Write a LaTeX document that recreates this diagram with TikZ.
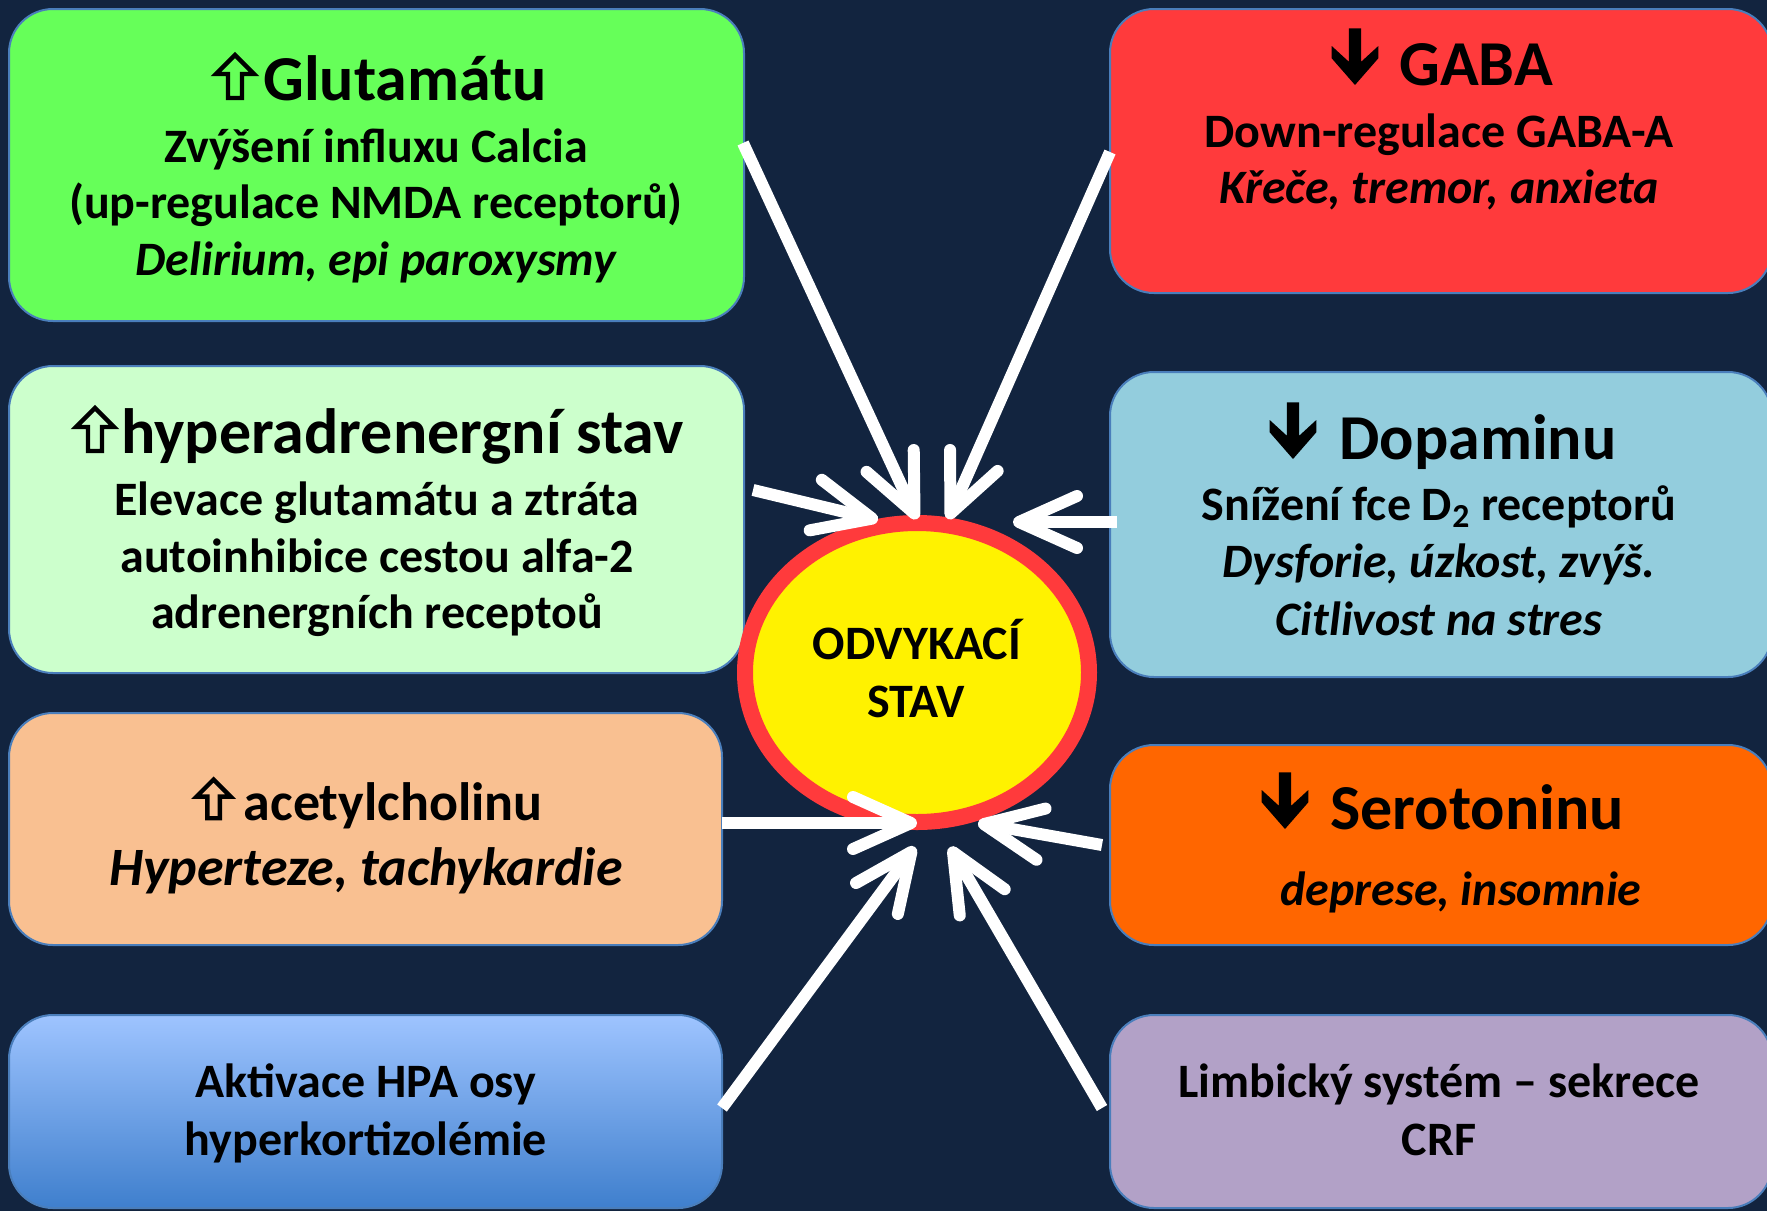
\documentclass[tikz,border=0pt]{standalone}
\usepackage{fontspec}
\setmainfont{Carlito}
\usetikzlibrary{arrows.meta,shapes.geometric,calc}
\definecolor{bgcol}{HTML}{12243F}
\definecolor{cGreen}{HTML}{66FF59}
\definecolor{cLGreen}{HTML}{CCFFCC}
\definecolor{cPeach}{HTML}{F9C091}
\definecolor{cBlueTop}{HTML}{9EC4FF}
\definecolor{cBlueBot}{HTML}{3F7FCD}
\definecolor{cRed}{HTML}{FF3A3C}
\definecolor{cLBlue}{HTML}{93CDDD}
\definecolor{cOrange}{HTML}{FF6600}
\definecolor{cPurple}{HTML}{B2A1C7}
\definecolor{cRing}{HTML}{FF3A3C}
\definecolor{cEdge}{HTML}{4A7EBB}
\tikzset{
  box/.style={draw=cEdge, line width=1pt, rounded corners=22pt, inner sep=0pt, outer sep=0pt},
  tl/.style={anchor=base west, inner sep=0pt, font=\bfseries\fontsize{32}{38}\selectfont},
  pkt/.style={anchor=base west, inner sep=0pt, font=\bfseries\fontsize{27}{32}\selectfont},
  bd/.style={anchor=base, inner sep=0pt, font=\bfseries\fontsize{24}{29}\selectfont},
  bdi/.style={anchor=base, inner sep=0pt, font=\bfseries\itshape\fontsize{24}{29}\selectfont},
  pki/.style={anchor=base, inner sep=0pt, font=\bfseries\itshape\fontsize{27}{32}\selectfont},
  conn/.style={draw=white, line width=6pt, -{Straight Barb[length=29pt, width=26pt, round]}},
  uparr/.pic={\draw[black, line width=2.2pt, miter limit=10]
      (0,-45) -- (19,-26) -- (7,-26) -- (7,-2) -- (-7,-2) -- (-7,-26) -- (-19,-26) -- cycle;},
  dnarr/.pic={\fill[black] (-6.2,-56.7) -- (6.2,-56.7) -- (6.2,-23.3) -- (23.3,-39) -- (23.3,-26.7)
      -- (0,0) -- (-23.3,-26.7) -- (-23.3,-39) -- (-6.2,-23.3) -- cycle;},
}
\begin{document}
\begin{tikzpicture}[x=0.5pt, y=-0.5pt]
\useasboundingbox (0,0) rectangle (1767,1211);
\fill[bgcol] (0,0) rectangle (1767,1211);

% boxes
\node[box, fill=cGreen,  minimum width=367.5pt, minimum height=156pt]   (green)  at (376.5,165) {};
\node[box, fill=cLGreen, minimum width=367.5pt, minimum height=153.5pt] (lgreen) at (376.5,519.5) {};
\node[box, fill=cPeach,  minimum width=356.5pt, minimum height=116pt]   (peach)  at (365.5,829) {};
\node[box, top color=cBlueTop, bottom color=cBlueBot, minimum width=356.5pt, minimum height=96.5pt] (blue) at (365.5,1111.5) {};
\node[box, fill=cRed,    minimum width=331pt, minimum height=142pt]     (red)    at (1441,151) {};
\node[box, fill=cLBlue,  minimum width=331pt, minimum height=152.5pt]   (lblue)  at (1441,524.5) {};
\node[box, fill=cOrange, minimum width=331pt, minimum height=100pt]     (orange) at (1441,845) {};
\node[box, fill=cPurple, minimum width=331pt, minimum height=96.5pt]    (purple) at (1441,1111.5) {};

% central ellipse
\node[ellipse, draw=cRing, line width=8pt, fill=yellow, minimum width=172pt, minimum height=149.5pt, inner sep=0pt, outer sep=0pt] (odv) at (917,672.5) {};

% arrow end points
\coordinate (s1) at ($(green.north east)+(-1,134)$);
\coordinate (s2) at ($(red.north west)+(0,143)$);
\coordinate (s3) at ($(lgreen.north east)+(9,124)$);
\coordinate (s4) at ($(lblue.north west)+(7,150)$);
\coordinate (s5) at ($(peach.north east)+(0,110)$);
\coordinate (s6) at ($(orange.north west)+(-8,100)$);
\coordinate (s7) at ($(blue.north east)+(0,93)$);
\coordinate (s8) at ($(purple.north west)+(-8,93)$);
\coordinate (e1) at ($(odv.center)+(0,-153.5)$);
\coordinate (e2) at ($(odv.center)+(31,-153.5)$);
\coordinate (e3) at ($(odv.center)+(-39,-152.5)$);
\coordinate (e4) at ($(odv.center)+(96,-150.5)$);
\coordinate (e5) at ($(odv.center)+(0,150.5)$);
\coordinate (e6) at ($(odv.center)+(61,150.5)$);
\coordinate (e7) at ($(odv.center)+(-2,174.5)$);
\coordinate (e8) at ($(odv.center)+(33,174.5)$);
\foreach \i in {1,...,8} { \draw[conn] (s\i) -- (e\i); }

% arrow symbols in the titles
\pic at (235,100) {uparr};
\pic at (95,453) {uparr};
\pic[scale=0.9] at (213.6,820) {uparr};
\pic at (1355,85) {dnarr};
\pic at (1293,459) {dnarr};
\pic at (1285,829) {dnarr};

% texts
\node[tl]  (g1) at (263,100) {Glutamátu};
\node[bd]  (g2) at (376,162) {Zvýšení influxu Calcia};
\node[bd]  (g3) at (376,218) {(up-regulace NMDA receptorů)};
\node[bdi] (g4) at (376,275) {Delirium, epi paroxysmy};

\node[tl]  (h1) at (121,453) {hyperadrenergní stav};
\node[bd]  (h2) at (377,515) {Elevace glutamátu a ztráta};
\node[bd]  (h3) at (377,572) {autoinhibice cestou alfa-2};
\node[bd]  (h4) at (377,628) {adrenergních receptoů};

\node[pkt] (a1) at (243.5,820) {acetylcholinu};
\node[pki] (a2) at (366,885) {Hyperteze, tachykardie};

\node[bd]  (k1) at (366,1097) {Aktivace HPA osy};
\node[bd]  (k2) at (366,1155) {hyperkortizolémie};

\node[tl]  (r1) at (1399,85) {GABA};
\node[bd]  (r2) at (1439,147) {Down-regulace GABA-A};
\node[bdi] (r3) at (1439,203) {Křeče, tremor, anxieta};

\node[tl]  (d1) at (1339,459) {Dopaminu};
\node[bd]  (d2) at (1439,520) {Snížení fce D\textsubscript{2} receptorů};
\node[bdi] (d3) at (1439,577) {Dysforie, úzkost, zvýš.};
\node[bdi] (d4) at (1439,635) {Citlivost na stres};

\node[tl]  (o1) at (1330,829) {Serotoninu};
\node[bdi] (o2) at (1461,905) {deprese, insomnie};

\node[bd]  (p1) at (1439,1097) {Limbický systém – sekrece};
\node[bd]  (p2) at (1439,1155) {CRF};

\node[bd]  (c1) at (917,659) {ODVYKACÍ};
\node[bd]  (c2) at (916,717) {STAV};
\end{tikzpicture}
\end{document}
